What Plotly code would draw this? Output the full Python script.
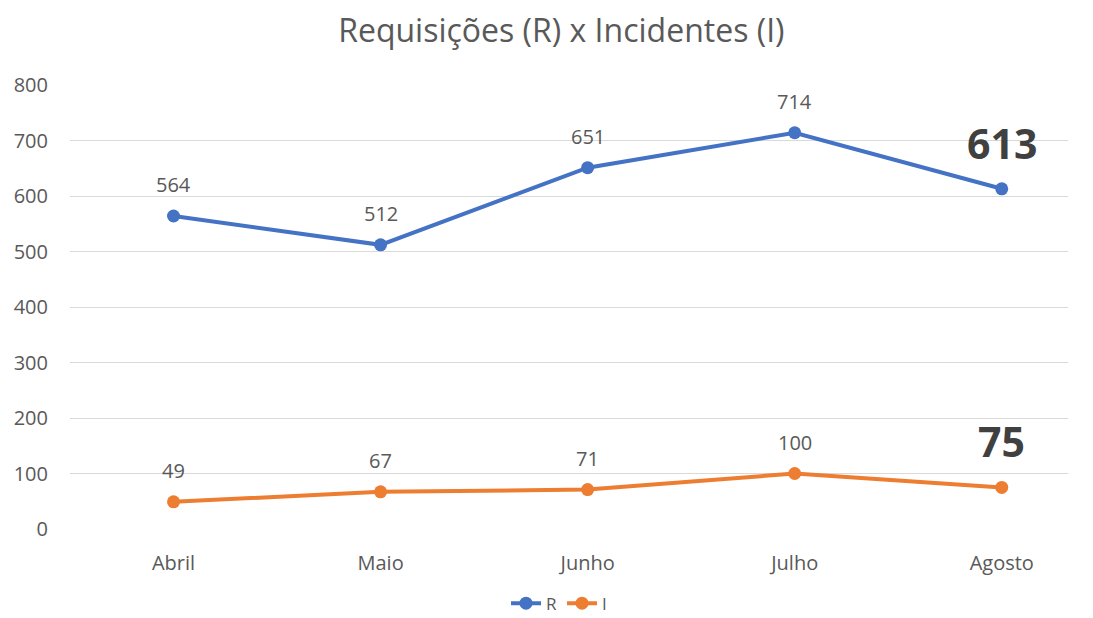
import plotly.graph_objects as go

months = ["Abril", "Maio", "Junho", "Julho", "Agosto"]
r_vals = [564, 512, 651, 714, 613]
i_vals = [49, 67, 71, 100, 75]
y_ticks = [0, 100, 200, 300, 400, 500, 600, 700, 800]

FONT = "Open Sans, Noto Sans, sans-serif"
BLUE = "#4472C4"
ORANGE = "#ED7D31"

fig = go.Figure()
fig.add_trace(go.Scatter(x=months, y=r_vals, name="R", mode="lines+markers",
                         line=dict(color=BLUE, width=4), marker=dict(size=13, color=BLUE)))
fig.add_trace(go.Scatter(x=months, y=i_vals, name="I", mode="lines+markers",
                         line=dict(color=ORANGE, width=4), marker=dict(size=13, color=ORANGE)))

annotations = []
for series in (r_vals, i_vals):
    for k, (m, v) in enumerate(zip(months, series)):
        last = k == len(months) - 1
        annotations.append(dict(
            x=m, y=v, xref="x", yref="y", text=f"<b>{v}</b>" if last else str(v),
            showarrow=False, yshift=46 if last else 31,
            font=dict(family=FONT, size=41 if last else 20, color="#404040" if last else "#595959"),
        ))

fig.update_layout(
    width=1085, height=610,
    paper_bgcolor="white", plot_bgcolor="white",
    margin=dict(l=62, r=25, t=77, b=89, autoexpand=False),
    title=dict(text="Requisições (R) x Incidentes (I)", x=0.51, xanchor="center",
               y=0.962, yanchor="middle",
               font=dict(family=FONT, size=32, color="#595959")),
    xaxis=dict(range=[-0.5, 4.32], showgrid=False, showline=False, zeroline=False,
               automargin=False,
               tickfont=dict(family=FONT, size=20, color="#595959"), ticks="outside",
               tickcolor="white", ticklen=16),
    yaxis=dict(range=[0, 800], tickvals=y_ticks, showgrid=True, gridcolor="#D9D9D9",
               gridwidth=1, zeroline=False, showline=False, automargin=False,
               tickfont=dict(family=FONT, size=20, color="#595959"), ticks="outside",
               tickcolor="white", ticklen=17),
    legend=dict(orientation="h", x=0.49, xanchor="center", y=-0.168, yanchor="middle",
                font=dict(family=FONT, size=17, color="#595959")),
    annotations=annotations,
    showlegend=True,
)

fig.write_html("out.html")
